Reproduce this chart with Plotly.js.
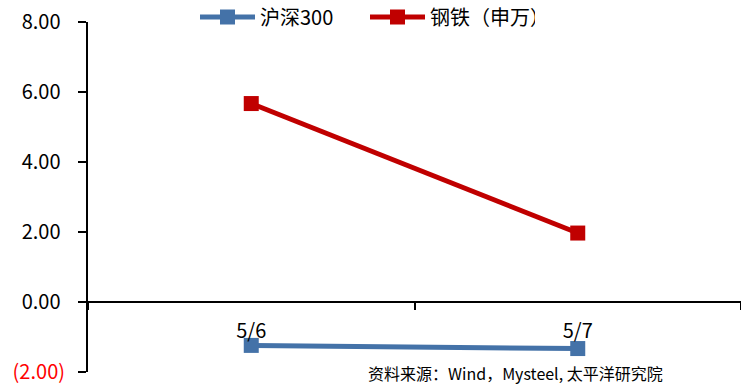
<!DOCTYPE html>
<html><head><meta charset="utf-8">
<script src="https://cdn.plot.ly/plotly-3.0.1.min.js"></script>
<style>html,body{margin:0;padding:0;background:#fff;}#chart{width:741px;height:385px;}</style>
</head><body><div id="chart"></div>
<script>
const categories = ['5/6', '5/7'];
const hs300 = [-1.24, -1.33];
const steel = [5.67, 1.97];
const yTickVals = [-2, 0, 2, 4, 6, 8];
const yTickText = ['<span style="color:#ff0000">(2.00)</span>', '0.00\u00a0', '2.00\u00a0', '4.00\u00a0', '6.00\u00a0', '8.00\u00a0'];
const sourceText = '资料来源：Wind，Mysteel, 太平洋研究院';

const FONT = '"Noto Sans CJK SC", "Noto Sans", sans-serif';
const xIdx = categories.map((c, i) => i);

const traces = [
  {x: xIdx, y: hs300, name: '沪深300', type: 'scatter', mode: 'lines+markers',
   line: {color: '#4472a8', width: 5}, marker: {symbol: 'square', size: 15, color: '#4472a8'}},
  {x: xIdx, y: steel, name: '钢铁（申万）', type: 'scatter', mode: 'lines+markers',
   line: {color: '#c00000', width: 5}, marker: {symbol: 'square', size: 15, color: '#c00000'}}
];

const layout = {
  width: 741, height: 385,
  margin: {l: 88, r: 0, t: 22, b: 13, autoexpand: false},
  paper_bgcolor: '#fff', plot_bgcolor: '#fff',
  font: {family: FONT, size: 20, color: '#000'},
  showlegend: true,
  legend: {orientation: 'h', xref: 'container', yref: 'container', x: 195 / 741, xanchor: 'left',
           y: 1 - 17 / 385, yanchor: 'middle', entrywidth: 100, entrywidthmode: 'pixels',
           font: {family: FONT, size: 20, color: '#000'}, itemwidth: 55, bgcolor: 'rgba(0,0,0,0)'},
  xaxis: {type: 'linear', range: [-0.5, 1.5], tickvals: xIdx, ticktext: categories,
          ticks: '', showgrid: false, zeroline: false,
          showline: true, linecolor: '#000', linewidth: 2,
          anchor: 'free', position: 0.2, ticklabelstandoff: 11,
          tickfont: {family: FONT, size: 20, color: '#000'},
          minor: {tickvals: [-0.5, 0.5, 1.5], ticks: 'outside', ticklen: 7, tickwidth: 2, tickcolor: '#000', showgrid: false}},
  yaxis: {range: [-2, 8], tickvals: yTickVals, ticktext: yTickText,
          ticks: 'outside', ticklen: 8, tickwidth: 2, tickcolor: '#000',
          showline: true, linecolor: '#000', linewidth: 2,
          showgrid: false, zeroline: false, ticklabelstandoff: 9,
          tickfont: {family: FONT, size: 20, color: '#000'}},
  annotations: [{text: sourceText, xref: 'paper', yref: 'paper', x: (366 - 88) / 653, y: (385 - 373 - 13) / 350,
                 xanchor: 'left', yanchor: 'middle', showarrow: false,
                 font: {family: FONT, size: 16, color: '#000'}}]
};

Plotly.newPlot('chart', traces, layout, {displayModeBar: false, staticPlot: true});
</script></body></html>
